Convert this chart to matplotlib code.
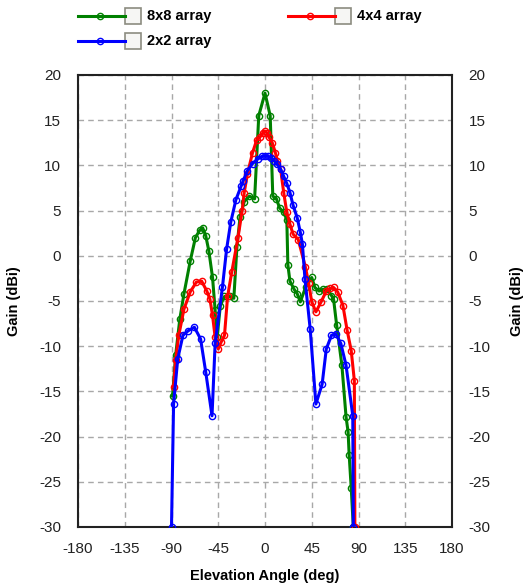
import matplotlib
matplotlib.use("Agg")
import matplotlib.pyplot as plt
from matplotlib.lines import Line2D
from matplotlib.patches import Rectangle

# ---------------- data ----------------
green_deg = [-89, -86, -82, -78, -72, -67, -63, -60, -57, -54, -50.5, -48, -46, -43, -39, -34, -30,
             -27, -24, -20, -15, -10, -6, 0, 5, 7.5, 11, 14, 18, 21, 22, 24, 28, 31, 34, 39, 45,
             48, 52, 56, 60, 64, 66, 69, 74, 78, 80, 81, 83, 85]
green_val = [-15.5, -11, -7, -4.2, -0.6, 2.0, 2.8, 3.1, 2.2, 0.5, -2.4, -6, -9, -5.5, -4.5, -4.5, -4.7,
             1.0, 4.3, 6.0, 6.6, 6.3, 15.5, 18.0, 15.5, 6.6, 6.3, 5.3, 4.8, 4.0, -1.0, -2.8, -3.7, -4.2, -5.1, -3.5, -2.4,
             -3.5, -3.9, -3.7, -3.7, -4.4, -4.8, -7.7, -12.1, -17.8, -19.5, -22, -25.7, -30]

red_deg = [-88, -86, -83, -78, -72, -66, -61, -56, -53, -50.5, -48, -45, -42, -39, -36, -32,
           -26, -22, -20, -17, -12, -8, -5, -2, 0, 2, 4, 7, 10, 12, 15, 18, 21, 24, 27, 32,
           38.8, 42, 45, 49, 54, 59, 63, 66, 70, 75, 79, 83, 86, 86.5]
red_val = [-14.5, -11.5, -8.8, -5.9, -4.0, -2.9, -2.8, -3.9, -4.8, -6.6, -9.0, -10.3, -9.5, -8.8, -4.5, -1.8,
           2.0, 5.0, 7.0, 9.0, 11.4, 12.8, 13.1, 13.6, 13.8, 13.6, 13.1, 12.5, 11.4, 10.5, 9.6, 7.0, 4.8, 3.5, 2.4, 1.8,
           -1.2, -3.0, -5.1, -6.2, -5.1, -3.9, -3.6, -3.5, -4.0, -5.5, -8.2, -10.5, -13.8, -30]

blue_deg = [-90, -88, -84, -79, -74, -68, -62, -57, -51, -48, -41, -37, -33, -28, -23, -21, -17, -12,
            -7, -3, 0, 3, 6, 9, 12, 15, 18, 21, 24, 27, 31, 34, 36, 38.5, 43.5, 49, 55, 59, 64,
            68, 73, 78, 84.5, 85]
blue_val = [-30, -16.4, -11.4, -8.8, -8.3, -7.9, -9.2, -12.9, -17.7, -9.7, -3.5, 0.7, 3.7, 6.2, 7.7, 8.3, 9.4, 10.2,
            10.7, 11.0, 11.0, 11.0, 10.8, 10.5, 10.1, 9.6, 8.8, 8.0, 7.0, 5.6, 4.2, 2.6, 1.3, -2.6, -8.1, -16.4, -14.2, -10.3, -8.8,
            -8.6, -9.7, -12.1, -17.7, -30]

series = [("8x8 array", green_deg, green_val, "#008000"),
          ("4x4 array", red_deg, red_val, "#ff0000"),
          ("2x2 array", blue_deg, blue_val, "#0000ff")]

x_ticks = [-180, -135, -90, -45, 0, 45, 90, 135, 180]
y_ticks = [-30, -25, -20, -15, -10, -5, 0, 5, 10, 15, 20]

# ---------------- figure ----------------
W, H = 527, 586
plt.rcParams['font.family'] = ['Liberation Sans', 'DejaVu Sans']
plt.rcParams['axes.unicode_minus'] = False
fig = plt.figure(figsize=(W / 100, H / 100), dpi=100)
L, R, T, B = 78, 452, 75, 527
ax = fig.add_axes([L / W, 1 - B / H, (R - L) / W, (B - T) / H])

for name, d, v, c in series:
    ax.plot(d, v, color=c, lw=2.2, marker='o', ms=4.5, mfc='none', mec=c, mew=1.0, zorder=3)

ax.set_xlim(-180, 180)
ax.set_ylim(-30, 20)
ax.set_xticks(x_ticks)
ax.set_yticks(y_ticks)
ax.grid(True, color='#a8a8a8', linestyle=(0, (4, 3)), linewidth=1.0)
ax.set_axisbelow(True)
for s in ax.spines.values():
    s.set_color('#222222')
    s.set_linewidth(1.5)
ax.tick_params(axis='y', length=0, labelsize=11, pad=12, colors='#222222',
               labelright=True, right=False)
ax.tick_params(axis='x', length=0, labelsize=11, pad=11, colors='#222222')
ax.set_xlabel("Elevation Angle (deg)", fontsize=10.5, fontweight='bold', labelpad=9)

def fx(x):
    return x / W

def fy(y):
    return 1 - y / H

for xl in (14, 517):
    fig.text(fx(xl), fy((T + B) / 2), "Gain (dBi)", rotation=90, fontsize=10.5,
             fontweight='bold', ha='center', va='center')

# ---------------- legend ----------------
def legend_entry(x0, y0, label, color):
    fig.add_artist(Line2D([fx(x0), fx(x0 + 47)], [fy(y0), fy(y0)], color=color, lw=2.2,
                          transform=fig.transFigure))
    fig.add_artist(Line2D([fx(x0 + 22)], [fy(y0)], color=color, marker='o', ms=4.5,
                          mfc='none', mec=color, mew=1.0, transform=fig.transFigure))
    bx = x0 + 47
    fig.add_artist(Rectangle((fx(bx), fy(y0 + 8)), 16 / W, 16 / H, transform=fig.transFigure,
                             facecolor='#f6f6f4', edgecolor='#8c8c80', lw=1.2))
    fig.text(fx(bx + 22), fy(y0), label, fontsize=10.5, fontweight='bold',
             ha='left', va='center')

legend_entry(78, 16, "8x8 array", "#008000")
legend_entry(288, 16, "4x4 array", "#ff0000")
legend_entry(78, 41, "2x2 array", "#0000ff")

fig.savefig("out.png", dpi=100)
